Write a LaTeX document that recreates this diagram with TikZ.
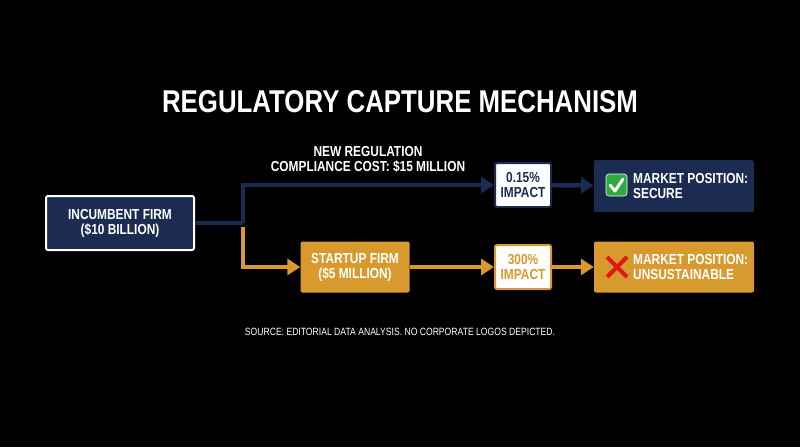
\documentclass[tikz,border=0pt]{standalone}
\usepackage{fontspec}
\setmainfont{Liberation Sans}[FakeStretch=0.82]
\usetikzlibrary{positioning,arrows.meta}
\definecolor{navy}{HTML}{1C2B52}
\definecolor{gold}{HTML}{D89A2E}
\definecolor{okgreen}{HTML}{2EAA3A}
\definecolor{nored}{HTML}{E01818}
\tikzset{
  box/.style={rectangle, rounded corners=2pt, align=center, font=\bfseries\fontsize{14.5}{15}\selectfont, text=white},
  navybox/.style={box, fill=navy},
  goldbox/.style={box, fill=gold},
  boxtext/.style={anchor=west, align=left, text=white, inner sep=0pt, font=\bfseries\fontsize{14.5}{15}\selectfont},
  flow/.style={line width=4.5pt, -{Triangle[length=13pt,width=16pt]}},
}
\begin{document}
\begin{tikzpicture}[x=1pt,y=-1pt]
  \useasboundingbox[fill=black] (0,0) rectangle (800,447);

  \node[font=\bfseries\fontsize{31.5}{34}\selectfont, text=white] (title) at (400,102) {REGULATORY CAPTURE MECHANISM};

  % incumbent path
  \node[navybox, draw=white, line width=2pt, minimum width=148pt, minimum height=54pt] (inc) at (120,223) {INCUMBENT FIRM\\(\$10 BILLION)};
  \node[box, fill=white, draw=navy, line width=2pt, text=navy, minimum width=56pt, minimum height=44pt] (imp1) at (523,185) {0.15\%\\IMPACT};
  \node[navybox, minimum width=160pt, minimum height=52pt] (sec) at (674,186) {};
  \node[boxtext] (sectxt) at (633,186) {MARKET POSITION:\\SECURE};
  \coordinate (split) at (243,223);

  \node[font=\bfseries\fontsize{14.5}{15}\selectfont, text=white, align=center] (reg) at (368,159) {NEW REGULATION\\COMPLIANCE COST: \$15 MILLION};

  % startup path
  \node[goldbox, minimum width=109pt, minimum height=51pt] (start) at (355,267) {STARTUP FIRM\\(\$5 MILLION)};
  \node[box, fill=white, draw=gold, line width=2pt, text=gold, minimum width=56pt, minimum height=44pt] (imp2) at (523,267) {300\%\\IMPACT};
  \node[goldbox, minimum width=160pt, minimum height=51pt] (uns) at (674,267) {};
  \node[boxtext] (unstxt) at (633,267) {MARKET POSITION:\\UNSUSTAINABLE};

  % connectors
  \draw[flow, gold] ([yshift=-4pt]split) |- (start);
  \draw[flow, gold] (start) -- (imp2);
  \draw[flow, gold] (imp2) -- (uns);
  \draw[line width=4.5pt, navy] (inc) -- (split);
  \draw[flow, navy] (split) |- (imp1);
  \draw[flow, navy] (imp1) -- (sec);

  % icons
  \fill[okgreen, draw=white, line width=0.6pt, rounded corners=3pt] (606,174) rectangle (627,196);
  \draw[white, line width=3pt, line cap=round, line join=round] (610,185) -- (615,191) -- (623,179);
  \draw[nored, line width=4pt] (607,257) -- (627,277) (627,257) -- (607,277);

  \node[font=\fontsize{10.5}{11}\selectfont, text=white] (src) at (400,332) {SOURCE: EDITORIAL DATA ANALYSIS. NO CORPORATE LOGOS DEPICTED.};
\end{tikzpicture}
\end{document}
